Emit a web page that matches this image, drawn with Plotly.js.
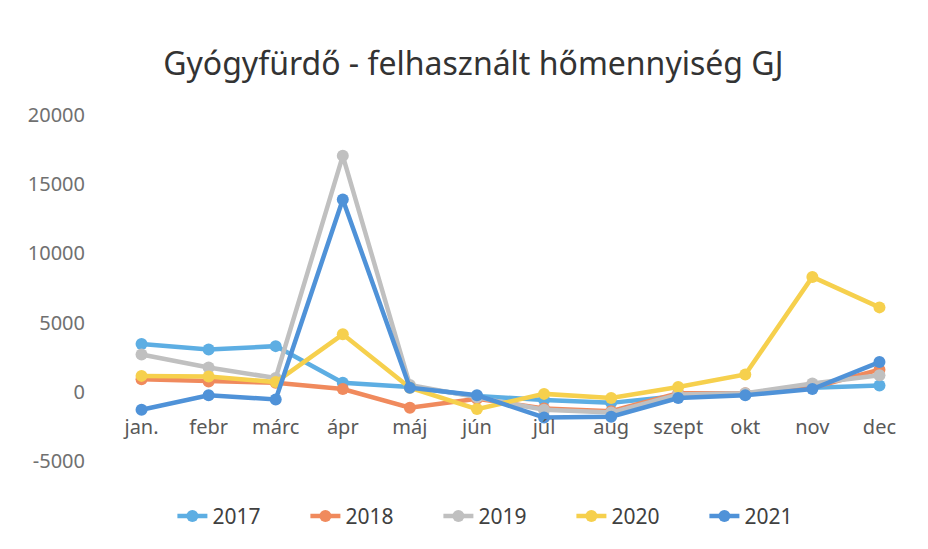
<!DOCTYPE html>
<html>
<head>
<meta charset="utf-8">
<script src="https://cdn.plot.ly/plotly-3.0.1.min.js"></script>
<style>html,body{margin:0;padding:0;background:#fff;}#chart{width:928px;height:549px;}</style>
</head>
<body>
<div id="chart"></div>
<script>
const months = ["jan.", "febr", "márc", "ápr", "máj", "jún", "júl", "aug", "szept", "okt", "nov", "dec"];
const y2017 = [3450, 3050, 3300, 650, 350, -300, -600, -800, -300, -200, 300, 450];
const y2018 = [900, 750, 650, 200, -1150, -500, -1200, -1400, -100, -100, 300, 1600];
const y2019 = [2700, 1750, 1000, 17050, 500, -400, -1300, -1500, -200, -100, 600, 1200];
const y2020 = [1150, 1100, 700, 4150, 300, -1250, -150, -450, 350, 1250, 8300, 6100];
const y2021 = [-1300, -250, -550, 13900, 300, -250, -1850, -1800, -450, -250, 200, 2150];
const seriesNames = ["2017", "2018", "2019", "2020", "2021"];
const seriesData = [y2017, y2018, y2019, y2020, y2021];
const colors = ["#5DAEE3", "#F08A5D", "#C0C0C0", "#F6D04D", "#4F92D8"];
const yTicks = [-5000, 0, 5000, 10000, 15000, 20000];

const traces = seriesData.map((d, i) => ({
  x: months,
  y: d,
  name: seriesNames[i],
  type: "scatter",
  mode: "lines+markers",
  line: {color: colors[i], width: 4.5},
  marker: {color: colors[i], size: 12}
}));

const layout = {
  width: 928, height: 549,
  paper_bgcolor: "#ffffff", plot_bgcolor: "#ffffff",
  margin: {l: 108, r: 15, t: 115, b: 86},
  title: {text: "Gyógyfürdő - felhasznált hőmennyiség GJ", x: 0.51, xanchor: "center", y: 0.883, yanchor: "middle",
          font: {family: "Noto Sans", size: 32, color: "#333333"}},
  showlegend: true,
  legend: {orientation: "h", x: 0.08, xanchor: "left", y: -0.16, yanchor: "middle",
           entrywidth: 88, entrywidthmode: "pixels",
           font: {family: "Noto Sans", size: 21, color: "#404040"}, traceorder: "normal"},
  xaxis: {type: "category", range: [-0.5, 11.5], anchor: "free", position: 0.201,
          showline: false, showgrid: false, zeroline: false,
          ticks: "outside", ticklen: 18, tickcolor: "rgba(0,0,0,0)",
          tickfont: {family: "Noto Sans", size: 20, color: "#595959"}},
  yaxis: {range: [-5000, 20000], tickvals: yTicks, ticktext: yTicks.map(String),
          showgrid: false, zeroline: false, showline: false,
          ticks: "outside", ticklen: 18, tickcolor: "rgba(0,0,0,0)",
          tickfont: {family: "Noto Sans", size: 20, color: "#707070"}}
};

Plotly.newPlot("chart", traces, layout, {displayModeBar: false, staticPlot: true});
</script>
</body>
</html>
